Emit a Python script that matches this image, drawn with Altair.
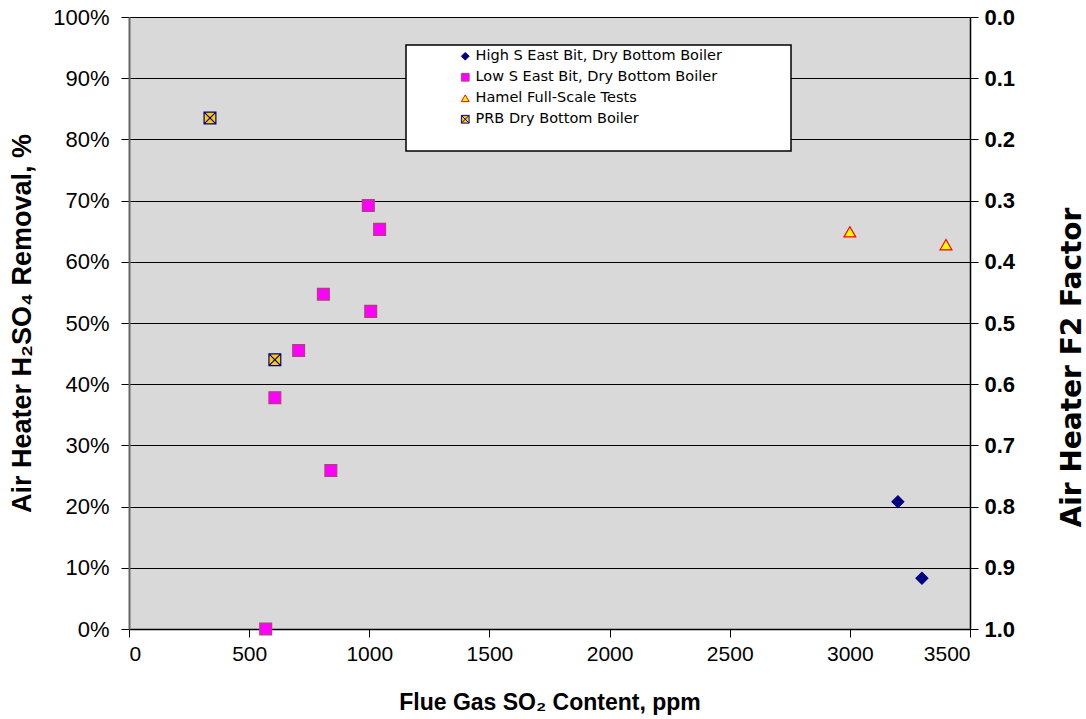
import altair as alt
import pandas as pd

# ---- data ----
series_names = [
    "High S East Bit, Dry Bottom Boiler",
    "Low S East Bit, Dry Bottom Boiler",
    "Hamel Full-Scale Tests",
    "PRB Dry Bottom Boiler",
]
high_s_x = [3200, 3300]
high_s_y = [20.8, 8.3]
low_s_x = [569, 607, 706, 809, 840, 996, 1006, 1043]
low_s_y = [0.0, 37.8, 45.5, 54.7, 25.9, 69.2, 51.9, 65.3]
hamel_x = [3000, 3400]
hamel_y = [64.9, 62.8]
prb_x = [337, 607]
prb_y = [83.5, 44.0]

x_ticks = [0, 500, 1000, 1500, 2000, 2500, 3000, 3500]
y_ticks = [0, 10, 20, 30, 40, 50, 60, 70, 80, 90, 100]
f2_ticks = [0.0, 0.1, 0.2, 0.3, 0.4, 0.5, 0.6, 0.7, 0.8, 0.9, 1.0]

rows = []
for name, xs, ys in zip(series_names, [high_s_x, low_s_x, hamel_x, prb_x],
                        [high_s_y, low_s_y, hamel_y, prb_y]):
    for xv, yv in zip(xs, ys):
        rows.append({"series": name, "so2": xv, "removal": yv, "f2": 1 - yv / 100})
df = pd.DataFrame(rows)

fills = ["#000080", "#FF00FF", "#FFFF00", "#FFCC00"]
strokes = ["#000080", "#B0407A", "#FF0000", "#000080"]
shapes = ["diamond", "square", "triangle-up",
          "M-1,-1L1,-1L1,1L-1,1Z M-1,-1L1,1 M-1,1L1,-1"]

W, H = 841, 612

x_axis = alt.Axis(values=x_ticks, format="d", title="Flue Gas SO₂ Content, ppm",
                  grid=False, labelFont="Liberation Sans", labelFontSize=21,
                  labelColor="#000", labelPadding=6,
                  titleFont="Liberation Sans", titleFontSize=23,
                  titleFontWeight="bold", titleColor="#000", titlePadding=27,
                  tickSize=8, tickColor="#000", domainColor="#000",
                  domainWidth=1.5)
x_enc = alt.X("so2:Q", scale=alt.Scale(domain=[0, 3500], nice=False), axis=x_axis)

base = alt.Chart(df)

box = alt.Chart(pd.DataFrame({"a": [0]})).mark_rect(
    fill="white", stroke="black", strokeWidth=1.5
).encode(x=alt.value(277), x2=alt.value(662), y=alt.value(28), y2=alt.value(134))

pts = base.mark_point(fillOpacity=1, strokeWidth=1.2, opacity=1, size=140).encode(
    x=x_enc,
    y=alt.Y("removal:Q", scale=alt.Scale(domain=[0, 100], nice=False),
            axis=alt.Axis(values=y_ticks, labelExpr="datum.value + '%'",
                          title="Air Heater H₂SO₄ Removal, %",
                          grid=True, gridColor="#000", gridWidth=1.2,
                          labelFont="Liberation Sans", labelFontSize=22,
                          labelColor="#000", labelPadding=12,
                          titleFont="Liberation Sans", titleFontSize=27,
                          titleFontWeight="bold", titleColor="#000",
                          titleX=-93, titleY=306,
                          tickSize=8, tickColor="#000", domainColor="#666",
                          domainWidth=2)),
    fill=alt.Fill("series:N", sort=series_names,
                  scale=alt.Scale(domain=series_names, range=fills),
                  legend=alt.Legend(title=None, orient="none", legendX=329, legendY=32,
                                    labelFont="DejaVu Sans", labelFontSize=14.5,
                                    labelColor="#000", labelLimit=400,
                                    symbolSize=60, rowPadding=6,
                                    labelOffset=3, padding=0, symbolStrokeWidth=1,
                                    zindex=2)),
    stroke=alt.Stroke("series:N", sort=series_names,
                      scale=alt.Scale(domain=series_names, range=strokes)),
    shape=alt.Shape("series:N", sort=series_names,
                    scale=alt.Scale(domain=series_names, range=shapes)),
)

right = base.mark_point(opacity=0).encode(
    x=x_enc,
    y=alt.Y("f2:Q", scale=alt.Scale(domain=[0, 1], reverse=True, nice=False),
            axis=alt.Axis(orient="right", values=f2_ticks, format=".1f",
                          title="Air Heater F2 Factor", grid=False,
                          labelFont="Liberation Sans", labelFontSize=22,
                          labelFontWeight="bold", labelColor="#000", labelPadding=6,
                          titleFont="DejaVu Sans", titleFontSize=28,
                          titleFontWeight="bold", titleColor="#000", titleAngle=270,
                          titleBaseline="top", titleX=88, titleY=350,
                          tickSize=8, tickColor="#000",
                          domainColor="#000", domainWidth=1.5)),
)

chart = alt.layer(box, pts, right).resolve_scale(y="independent").properties(
    width=W, height=H,
    autosize=alt.AutoSizeParams(type="none"),
    padding={"left": 129, "top": 17, "right": 116, "bottom": 90},
    background="white",
).configure_view(fill="#D9D9D9", stroke=None)

chart.save("out.html", embed_options={"renderer": "svg", "actions": False})
